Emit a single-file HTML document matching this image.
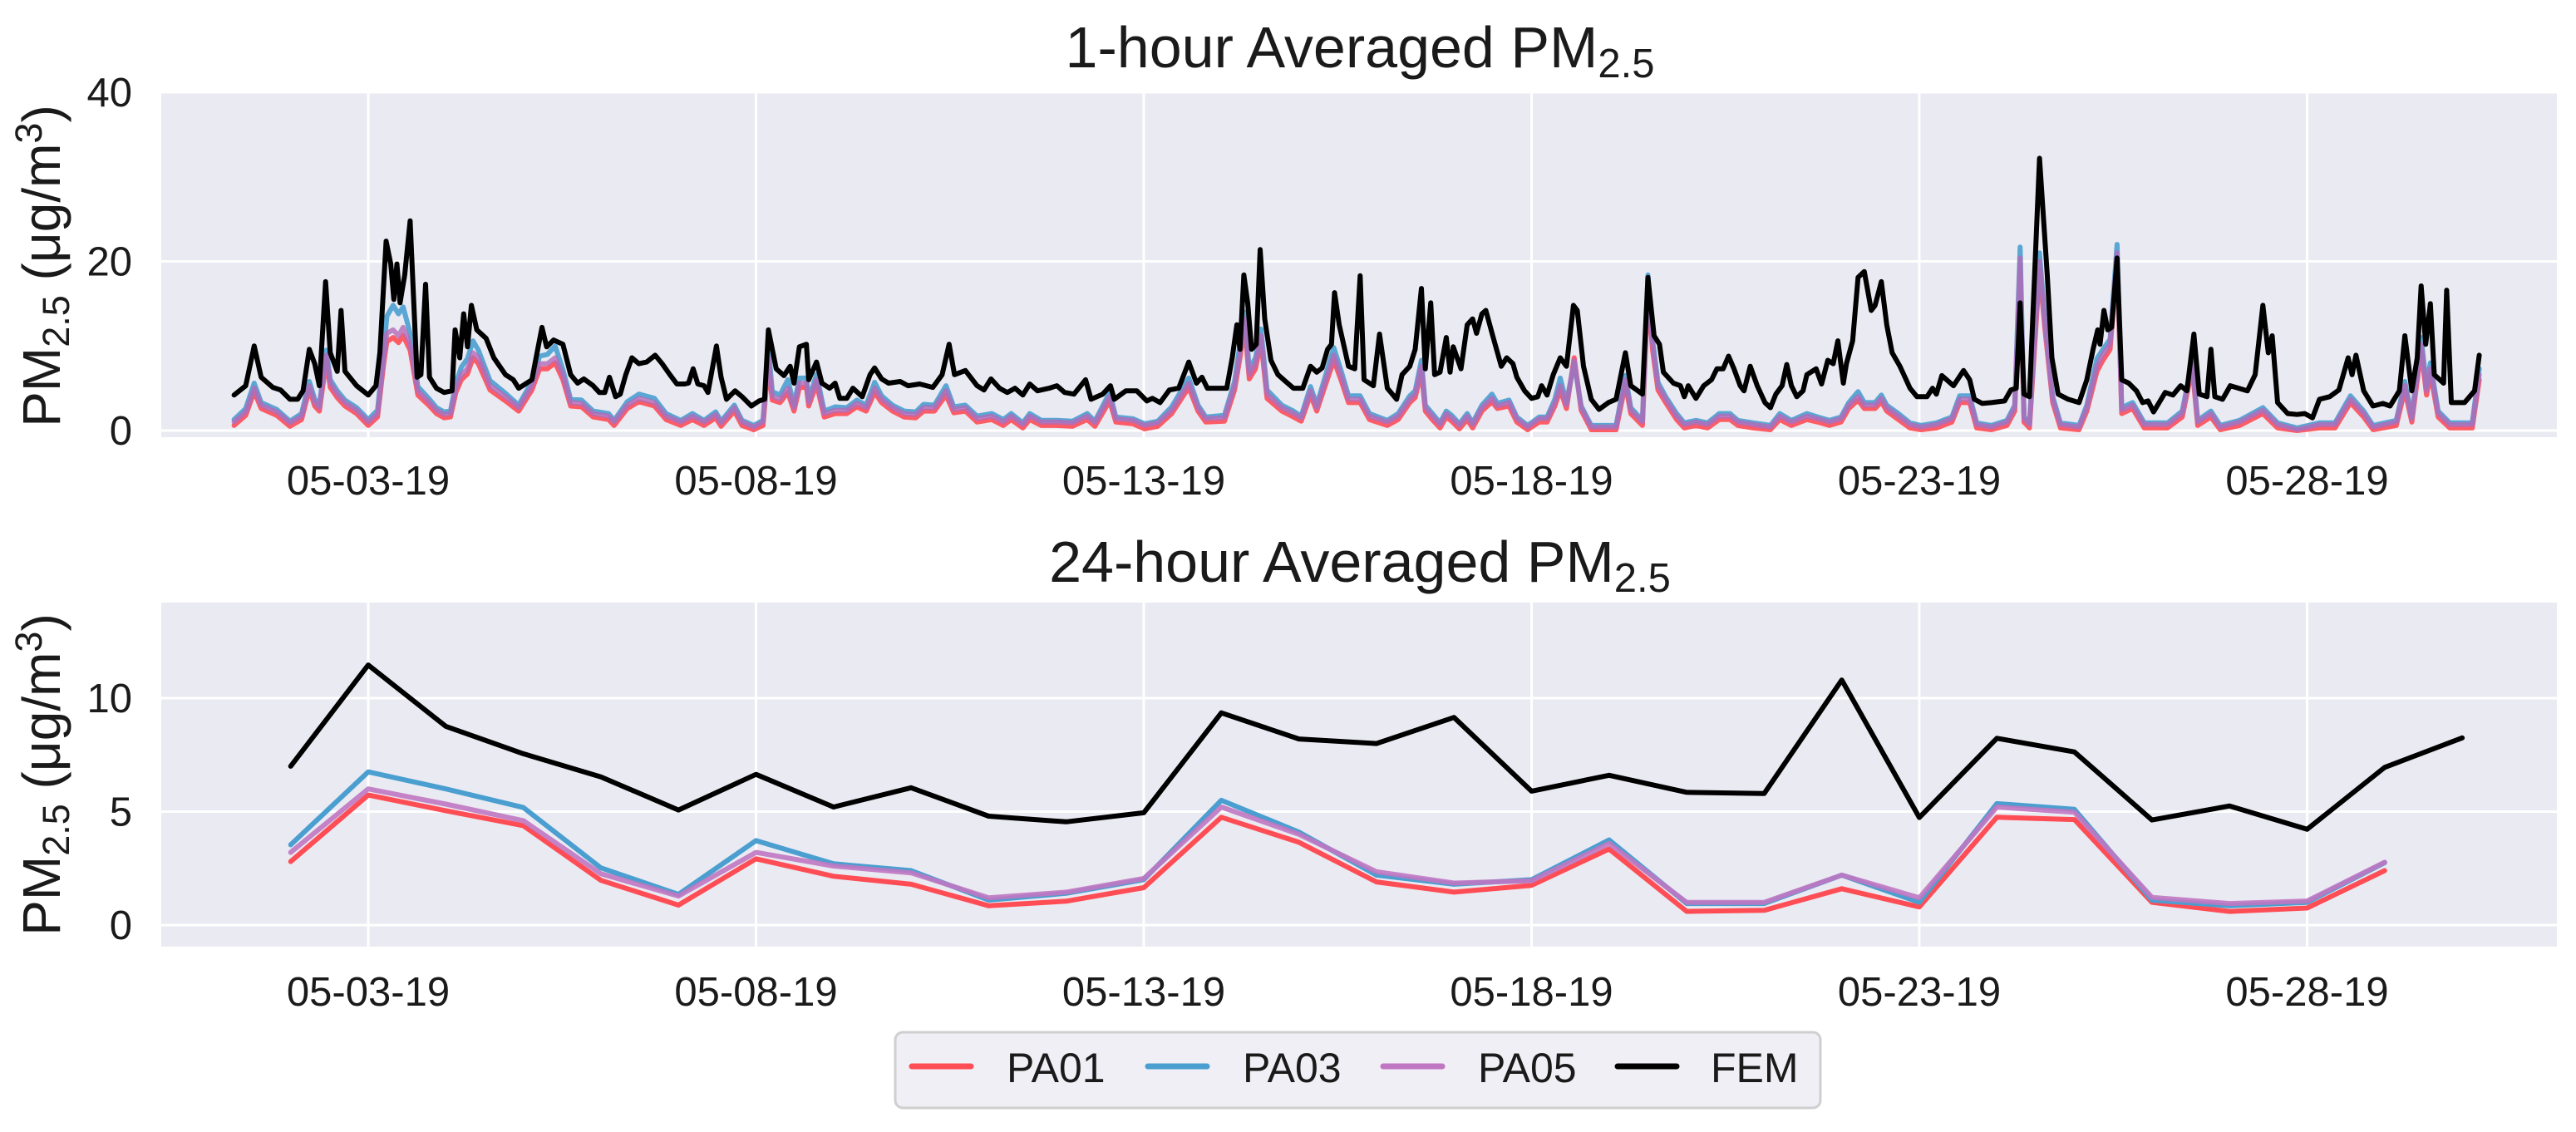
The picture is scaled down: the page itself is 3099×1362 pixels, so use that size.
<!DOCTYPE html>
<html><head><meta charset="utf-8"><style>
html,body{margin:0;padding:0;background:#fff;}
svg{display:block;font-family:"Liberation Sans",Arial,sans-serif;}
</style></head><body>
<svg id="chart" width="3099" height="1362" viewBox="0 0 3099 1362" xmlns="http://www.w3.org/2000/svg">
<defs>
<clipPath id="clipTop"><rect x="194" y="111" width="2882" height="415"/></clipPath>
<clipPath id="clipBot"><rect x="194" y="725" width="2882" height="414"/></clipPath>
</defs>
<g id="topAxes"></g>
<g id="botAxes"></g>
<text x="1636" y="81" font-size="70" text-anchor="middle" fill="#1a1a1a">1-hour Averaged PM<tspan font-size="49" dy="12">2.5</tspan></text>
<text x="1636" y="700" font-size="70" text-anchor="middle" fill="#1a1a1a">24-hour Averaged PM<tspan font-size="49" dy="12">2.5</tspan></text>
<text transform="translate(72,320) rotate(-90)" font-size="64" text-anchor="middle" fill="#1a1a1a">PM<tspan font-size="45" dy="11">2.5</tspan><tspan dy="-11"> (μg/m</tspan><tspan font-size="45" dy="-22">3</tspan><tspan dy="22">)</tspan></text>
<text transform="translate(72,932) rotate(-90)" font-size="64" text-anchor="middle" fill="#1a1a1a">PM<tspan font-size="45" dy="11">2.5</tspan><tspan dy="-11"> (μg/m</tspan><tspan font-size="45" dy="-22">3</tspan><tspan dy="22">)</tspan></text>
<g>
<rect x="1077" y="1242" width="1113" height="91" rx="9" fill="#efeff5" stroke="#cfcfcf" stroke-width="3"/>
<g><line x1="1097" y1="1283" x2="1168" y2="1283" stroke="#ff4d55" stroke-width="7" stroke-linecap="round"/><text x="1211" y="1302" font-size="50" fill="#1a1a1a">PA01</text></g>
<g><line x1="1381" y1="1283" x2="1452" y2="1283" stroke="#4a9fd0" stroke-width="7" stroke-linecap="round"/><text x="1495" y="1302" font-size="50" fill="#1a1a1a">PA03</text></g>
<g><line x1="1664" y1="1283" x2="1735" y2="1283" stroke="#c077c2" stroke-width="7" stroke-linecap="round"/><text x="1778" y="1302" font-size="50" fill="#1a1a1a">PA05</text></g>
<g><line x1="1946" y1="1283" x2="2017" y2="1283" stroke="#000" stroke-width="7" stroke-linecap="round"/><text x="2058" y="1302" font-size="50" fill="#1a1a1a">FEM</text></g>
</g>
</svg>
<script>
// ---------- data (days since 05-01-19 00:00) ----------
const xTickDays = [2,7,12,17,22,27];
const xTickLabels = ["05-03-19","05-08-19","05-13-19","05-18-19","05-23-19","05-28-19"];
const topYTicks = [0,20,40];
const botYTicks = [0,5,10];

const hourlyPaT = [0.27,0.42,0.53,0.62,0.82,0.99,1.14,1.24,1.31,1.37,1.46,1.51,1.60,1.70,1.85,2.00,2.12,2.20,2.24,2.32,2.39,2.45,2.54,2.64,2.79,2.88,2.98,3.06,3.13,3.20,3.28,3.35,3.42,3.57,3.77,3.94,4.11,4.21,4.31,4.41,4.51,4.61,4.75,4.90,5.10,5.17,5.34,5.49,5.69,5.84,6.03,6.18,6.33,6.48,6.55,6.72,6.82,6.97,7.09,7.16,7.21,7.31,7.41,7.49,7.56,7.65,
7.68,7.78,7.88,8.02,8.17,8.30,8.42,8.53,8.62,8.76,8.91,9.06,9.16,9.30,9.45,9.55,9.70,9.85,10.04,10.19,10.29,10.44,10.53,10.68,10.88,11.08,11.27,11.37,11.56,11.64,11.86,12.01,12.18,12.36,12.58,12.70,12.80,13.04,13.17,13.24,13.30,13.36,13.44,13.51,13.59,13.78,13.93,14.03,14.15,14.23,14.32,14.45,14.55,14.64,14.79,14.91,15.14,
15.28,15.43,15.50,15.58,15.63,15.72,15.82,15.90,15.97,16.07,16.17,16.24,16.36,16.49,16.56,16.71,16.81,16.95,17.10,17.20,17.30,17.37,17.45,17.55,17.64,17.77,17.89,18.09,18.21,18.28,18.43,18.50,18.56,18.63,18.73,18.87,18.97,19.12,19.27,19.42,19.56,19.66,19.86,20.08,20.20,20.35,20.55,20.69,20.84,20.99,21.09,21.21,21.29,21.43,21.51,21.58,21.73,21.88,22.02,22.22,22.42,22.52,22.65,
22.74,22.93,23.13,23.23,23.30,23.35,23.42,23.55,23.62,23.72,23.82,24.06,24.16,24.29,24.36,24.46,24.55,24.61,24.75,24.90,25.20,25.39,25.52,25.59,25.76,25.88,26.13,26.43,26.62,26.87,27.16,27.36,27.56,27.73,27.85,28.15,28.26,28.35,28.47,28.54,28.59,28.69,28.84,29.13,29.22];

const hourlyPA05 = [1.0,2.2,5.0,3.0,2.2,0.9,1.7,5.3,3.3,2.7,8.9,5.6,4.3,3.3,2.4,1.0,2.0,8.6,11.5,11.9,11.2,12.2,10.2,4.7,3.3,2.4,1.9,2.0,5.0,6.6,7.3,9.2,8.6,5.3,4.0,2.7,5.3,7.9,7.9,8.6,6.6,3.3,3.2,2.0,1.7,1.0,3.0,3.8,3.3,1.7,1.0,1.7,1.0,1.9,0.9,2.7,1.0,0.4,1.0,8.6,4.0,3.7,5.0,2.7,5.6,5.6,
3.3,6.0,2.0,2.4,2.4,3.2,2.7,5.0,3.7,2.7,2.0,1.9,2.7,2.7,4.7,2.5,2.7,1.4,1.7,1.0,1.7,0.7,1.7,1.0,1.0,0.9,1.7,0.9,4.0,1.4,1.2,0.6,0.9,2.4,5.6,2.7,1.4,1.5,5.3,9.2,13.2,6.6,7.9,11.2,4.3,2.7,2.0,1.5,4.7,2.7,5.3,8.9,6.3,3.7,3.7,1.7,1.0,
1.7,3.7,4.3,7.6,2.7,1.7,0.7,2.0,1.5,0.6,1.7,0.7,2.7,3.8,2.9,3.3,1.4,0.4,1.4,1.4,3.3,5.3,3.0,8.3,2.7,0.4,0.4,0.4,6.0,2.4,1.0,17.5,10.2,5.3,3.7,1.7,0.7,1.0,0.7,1.7,1.7,1.0,0.7,0.4,1.7,1.0,1.7,1.4,1.0,1.4,3.0,4.0,3.0,3.0,3.8,2.7,1.7,0.7,0.4,0.7,1.4,3.7,3.7,
0.7,0.4,1.0,2.7,20.4,1.4,0.7,20.0,12.5,3.7,0.7,0.4,2.7,7.6,8.9,10.2,21.0,2.4,3.0,0.7,0.7,2.0,7.9,1.0,2.0,0.4,1.0,2.4,0.7,0.1,0.7,0.7,3.7,2.0,0.4,1.0,5.3,1.4,10.2,4.7,7.3,2.0,0.7,0.7,6.6];

const hourlyPA03 = [1.3,2.6,5.6,3.3,2.5,1.1,2.0,5.8,3.7,3.0,9.5,6.0,4.7,3.6,2.7,1.3,2.4,9.5,13.5,14.8,13.8,14.6,11.5,5.2,3.7,2.7,2.2,2.3,5.6,7.5,8.5,10.6,9.5,5.9,4.4,3.0,5.8,8.8,9.0,10.0,7.2,3.7,3.6,2.3,2.0,1.2,3.4,4.3,3.8,2.0,1.2,2.0,1.2,2.2,1.1,3.0,1.2,0.6,1.2,9.8,4.6,4.2,6.0,3.0,6.2,6.2,
3.7,6.6,2.3,2.8,2.7,3.6,3.0,5.7,4.1,3.0,2.3,2.2,3.1,3.0,5.3,2.8,3.0,1.7,2.0,1.3,2.0,0.9,2.0,1.2,1.2,1.1,2.0,1.1,4.5,1.6,1.4,0.8,1.1,2.8,6.2,3.0,1.6,1.8,5.8,10.2,14.0,7.2,8.6,12.0,4.8,3.0,2.3,1.7,5.2,3.0,5.8,9.8,6.9,4.1,4.1,2.0,1.2,
2.0,4.1,4.7,8.3,3.0,2.0,0.9,2.3,1.8,0.8,2.0,0.9,3.0,4.3,3.2,3.6,1.6,0.6,1.6,1.6,3.7,6.2,3.3,8.0,2.9,0.6,0.6,0.6,6.5,2.7,1.2,18.4,10.8,5.7,4.0,2.0,0.9,1.2,0.9,2.0,2.0,1.2,0.9,0.6,2.0,1.2,2.0,1.6,1.2,1.6,3.3,4.6,3.3,3.3,4.2,3.0,2.0,0.9,0.6,0.9,1.6,4.1,4.1,
0.9,0.6,1.2,3.0,21.7,1.6,0.9,21.0,13.0,4.0,0.9,0.6,3.0,8.5,9.5,10.8,22.0,2.7,3.3,0.9,0.9,2.3,8.3,1.2,2.3,0.6,1.2,2.7,0.9,0.3,0.9,0.9,4.1,2.3,0.6,1.2,5.8,1.6,11.0,5.2,8.0,2.3,0.9,0.9,7.3];

const hourlyPA01 = [0.6,1.8,4.6,2.6,1.8,0.5,1.3,4.9,2.9,2.3,8.3,5.1,3.9,2.9,2.0,0.6,1.6,8.0,10.5,11.0,10.4,11.2,9.5,4.2,2.9,2.0,1.5,1.6,4.5,6.0,6.7,8.6,7.9,4.8,3.5,2.3,4.8,7.3,7.3,8.0,6.0,2.9,2.8,1.6,1.3,0.6,2.6,3.4,2.9,1.3,0.6,1.3,0.6,1.5,0.5,2.3,0.6,0.1,0.6,7.9,3.6,3.3,4.5,2.3,5.1,5.1,
2.9,5.5,1.6,2.0,2.0,2.8,2.3,4.5,3.3,2.3,1.6,1.5,2.3,2.3,4.2,2.1,2.3,1.0,1.3,0.6,1.3,0.3,1.3,0.6,0.6,0.5,1.3,0.5,3.5,1.0,0.8,0.2,0.5,2.0,5.1,2.3,1.0,1.1,4.8,8.6,12.5,6.1,7.3,10.6,3.8,2.3,1.6,1.1,4.2,2.3,4.8,8.3,5.8,3.3,3.3,1.3,0.6,
1.3,3.3,3.9,7.0,2.3,1.3,0.3,1.6,1.1,0.2,1.3,0.3,2.3,3.4,2.6,2.9,1.0,0.1,1.0,1.0,2.9,4.8,2.6,8.6,2.4,0.1,0.1,0.1,5.5,2.0,0.6,16.5,9.6,4.8,3.3,1.3,0.3,0.6,0.3,1.3,1.3,0.6,0.3,0.1,1.3,0.6,1.3,1.0,0.6,1.0,2.6,3.6,2.6,2.6,3.4,2.3,1.3,0.3,0.1,0.3,1.0,3.3,3.3,
0.3,0.1,0.6,2.3,19.5,1.0,0.3,19.0,12.0,3.3,0.3,0.1,2.3,7.0,8.2,9.6,20.0,2.0,2.6,0.3,0.3,1.6,7.4,0.6,1.6,0.1,0.6,2.0,0.3,0.0,0.3,0.3,3.3,1.6,0.1,0.6,4.8,1.0,9.5,4.2,6.8,1.6,0.3,0.3,6.0];

const hourlyFemT = [0.27,0.42,0.53,0.62,0.77,0.87,0.99,1.09,1.16,1.24,1.31,1.37,1.45,1.51,1.60,1.65,1.70,1.85,2.00,2.10,2.15,2.23,2.29,2.33,2.37,2.41,2.47,2.54,2.63,2.68,2.74,2.79,2.88,2.98,3.08,3.12,3.18,3.23,3.28,3.33,3.40,3.52,3.62,3.77,3.87,3.94,4.11,4.17,4.24,4.30,4.39,4.51,4.61,4.70,4.78,4.90,4.98,5.05,5.11,5.19,5.25,5.32,5.40,5.49,5.59,5.70,5.79,5.89,5.98,6.08,6.13,6.19,6.25,6.33,6.38,6.49,6.55,6.62,6.73,6.82,6.94,7.04,7.11,7.16,7.21,7.26,7.36,7.44,7.49,7.56,7.65,
7.68,7.78,7.85,7.95,8.02,8.08,8.17,8.25,8.37,8.47,8.53,8.62,8.71,8.86,8.96,9.11,9.28,9.40,9.49,9.56,9.70,9.85,9.94,10.03,10.14,10.24,10.34,10.44,10.53,10.63,10.78,10.88,10.98,11.10,11.25,11.32,11.47,11.57,11.62,11.77,11.91,12.04,12.11,12.21,12.33,12.45,12.58,12.68,12.75,12.82,13.07,13.14,13.20,13.24,13.29,13.34,13.39,13.45,13.50,13.56,13.64,13.73,13.83,13.93,14.05,14.15,14.23,14.30,14.37,14.42,14.46,14.52,14.64,14.72,14.79,14.84,14.96,15.04,15.14,
15.26,15.33,15.43,15.50,15.58,15.63,15.70,15.75,15.82,15.90,15.95,15.99,16.09,16.17,16.24,16.29,16.36,16.41,16.50,16.61,16.68,16.76,16.81,16.91,17.00,17.08,17.13,17.20,17.28,17.37,17.45,17.54,17.59,17.67,17.77,17.87,17.99,18.09,18.21,18.28,18.43,18.50,18.58,18.65,18.70,18.83,18.92,18.97,19.02,19.12,19.22,19.32,19.39,19.47,19.54,19.61,19.69,19.74,19.82,19.91,20.01,20.08,20.15,20.23,20.29,20.35,20.42,20.50,20.55,20.67,20.74,20.82,20.89,20.95,21.02,21.06,21.14,21.21,21.29,21.38,21.43,21.51,21.58,21.65,21.75,21.88,21.97,22.10,22.17,22.22,22.29,22.44,22.57,22.65,
22.71,22.81,22.93,23.10,23.18,23.25,23.30,23.35,23.42,23.55,23.65,23.71,23.79,23.92,24.06,24.16,24.24,24.30,24.33,24.38,24.43,24.48,24.55,24.61,24.70,24.80,24.88,24.95,25.02,25.17,25.27,25.37,25.45,25.54,25.61,25.71,25.76,25.81,25.91,26.01,26.23,26.33,26.43,26.50,26.55,26.62,26.75,26.87,26.97,27.07,27.16,27.29,27.41,27.53,27.58,27.63,27.73,27.85,27.98,28.07,28.19,28.26,28.35,28.42,28.47,28.53,28.59,28.64,28.76,28.80,28.86,29.03,29.16,29.22];

const hourlyFem = [4.2,5.3,10,6.3,5.1,4.8,3.7,3.7,4.7,9.6,7.9,5.3,17.6,9.2,7.0,14.2,7.0,5.3,4.2,5.3,9.2,22.4,19.7,15.5,19.7,15.1,18.4,24.8,6.3,6.6,17.3,6.3,5.0,4.5,4.7,11.9,8.6,13.8,9.9,14.8,11.9,10.9,8.6,6.6,6.0,5.0,6.0,8.9,12.2,9.9,10.7,10.2,6.6,5.6,6.1,5.3,4.5,4.5,6.3,4.0,4.3,6.6,8.6,7.9,8.1,8.9,7.9,6.6,5.5,5.5,5.6,7.3,5.5,5.3,4.5,10,6.3,3.7,4.7,4.0,2.9,3.5,3.7,11.9,9.6,7.3,6.5,7.6,5.6,9.9,10.2,
6.0,8.1,5.6,5.0,5.6,3.8,3.8,5.0,4.0,6.6,7.4,6.1,5.6,5.8,5.3,5.5,5.1,6.6,10.2,6.6,7.1,5.3,4.8,6.1,5.0,4.5,5.0,4.2,5.5,4.7,5.0,5.3,4.5,4.3,6.0,3.7,4.3,5.3,3.7,4.7,4.7,3.5,3.8,3.3,4.8,5.0,8.1,5.6,6.3,5.0,5.0,8.6,12.5,9.6,18.4,15.1,9.6,10.2,21.4,13.2,8.3,6.6,5.8,5.0,5.0,7.6,6.9,7.4,9.6,10.2,16.3,12.5,7.6,7.3,18.3,6.0,5.3,11.4,5.0,
3.7,6.6,7.6,9.6,16.8,7.3,15.1,6.6,6.9,11.0,6.9,9.9,7.3,12.5,13.2,11.5,13.8,14.2,11.2,7.6,8.6,7.9,6.3,4.7,3.8,4.0,5.3,4.2,6.6,8.6,7.6,14.8,14.2,7.6,3.7,2.5,3.3,3.7,9.2,5.3,4.3,18.1,11.2,10.2,6.9,5.6,5.3,4.0,5.3,3.8,5.3,6.0,7.3,7.3,8.8,7.3,5.3,4.7,7.6,5.3,3.3,2.7,4.3,5.3,7.8,5.3,4.0,4.7,6.6,7.3,5.5,8.3,7.9,10.6,5.6,7.9,10.6,18.1,18.8,14.2,14.8,17.6,12.5,9.2,7.6,5.0,4.0,4.0,5.0,4.3,6.5,5.3,7.1,6.0,
3.7,3.2,3.3,3.5,4.8,5.0,15.1,4.3,4.0,32.2,18.4,8.6,4.3,3.7,3.3,6.0,9.6,11.9,10.2,14.2,11.9,12.2,20.4,6.0,5.6,4.7,3.3,3.5,2.2,4.5,4.2,5.3,4.7,11.4,4.3,4.0,9.6,4.0,3.7,5.3,4.7,6.6,14.8,9.2,11.2,3.3,2.0,1.9,2.0,1.5,3.7,4.0,4.8,8.6,6.6,8.9,4.7,2.9,3.2,2.9,4.7,11.2,4.7,8.6,17.1,10.2,15.0,6.6,5.6,16.6,3.3,3.3,4.7,8.9];

const dailyPaDays = [1,2,3,4,5,6,7,8,9,10,11,12,13,14,15,16,17,18,19,20,21,22,23,24,25,26,27,28];
const dailyPA01 = [2.8,5.73,5.04,4.38,1.97,0.88,2.92,2.15,1.8,0.85,1.05,1.65,4.75,3.65,1.9,1.45,1.75,3.35,0.6,0.65,1.6,0.8,4.75,4.65,1.0,0.6,0.75,2.4];
const dailyPA03 = [3.54,6.75,6.0,5.18,2.52,1.35,3.72,2.7,2.4,1.1,1.4,2.0,5.5,4.1,2.2,1.8,2.0,3.75,0.95,0.95,2.2,1.0,5.35,5.1,1.1,0.85,1.0,2.75];
const dailyPA05 = [3.2,6.0,5.33,4.6,2.26,1.28,3.2,2.6,2.3,1.2,1.45,2.05,5.2,4.0,2.35,1.85,1.95,3.6,1.0,1.0,2.2,1.2,5.2,4.97,1.22,0.95,1.06,2.77];
const dailyFemDays = [1,2,3,4,5,6,7,8,9,10,11,12,13,14,15,16,17,18,19,20,21,22,23,24,25,26,27,28,29];
const dailyFem = [7.0,11.46,8.76,7.55,6.53,5.07,6.64,5.2,6.05,4.8,4.55,4.95,9.35,8.2,8.0,9.15,5.9,6.6,5.85,5.8,10.8,4.74,8.23,7.63,4.63,5.25,4.22,6.95,8.25];

// ---------- axes ----------
const NS = "http://www.w3.org/2000/svg";
const AX_L = 194, AX_R = 3076;
function xDay(d){ return 443 + (d - 2) * 93.3; }
function yTop(v){ return 518 - v * 10.175; }
function yBot(v){ return 1113 - v * 27.3; }
function mk(tag, attrs, parent){
  const e = document.createElementNS(NS, tag);
  for (const k in attrs) e.setAttribute(k, attrs[k]);
  parent.appendChild(e);
  return e;
}
function panel(g, top, bottom, yfn, yTicks, clipId, prefix){
  const bg = mk("rect", {x:AX_L, y:top, width:AX_R-AX_L, height:bottom-top, fill:"#eaeaf2"}, g);
  
  
  yTicks.forEach(function(t){
    const y = yfn(t);
    const gl = mk("line", {x1:AX_L, x2:AX_R, y1:y, y2:y, stroke:"#fff", "stroke-width":3}, g);
    
    
    const tl = mk("text", {x:159, y:y+17, "font-size":49, "text-anchor":"end", fill:"#1a1a1a"}, g);
    tl.textContent = String(t);
    
    
  });
  xTickDays.forEach(function(d, i){
    const x = xDay(d);
    const gl = mk("line", {x1:x, x2:x, y1:top, y2:bottom, stroke:"#fff", "stroke-width":3}, g);
    
    
    const tl = mk("text", {x:x, y:bottom + (prefix === 'hourly' ? 69 : 71), "font-size":49, "text-anchor":"middle", fill:"#1a1a1a"}, g);
    tl.textContent = xTickLabels[i];
    
    
  });
}
function series(g, xs, ys, yfn, color, width, opacity, clipId, name){
  const n = Math.min(xs.length, ys.length);
  let d = "";
  for (let i = 0; i < n; i++) d += (i ? "L" : "M") + xDay(xs[i]).toFixed(1) + "," + yfn(ys[i]).toFixed(1);
  const p = mk("path", {d:d, fill:"none", stroke:color, "stroke-width":width, "stroke-linejoin":"round", "stroke-linecap":"round", opacity:opacity, "clip-path":"url(#" + clipId + ")"}, g);
  
  
}
const gt = document.getElementById("topAxes");
const gb = document.getElementById("botAxes");
panel(gt, 111, 526, yTop, topYTicks, "clipTop", "hourly");
panel(gb, 725, 1139, yBot, botYTicks, "clipBot", "daily");

series(gt, hourlyPaT, hourlyPA01, yTop, "#ff4d55", 6, 0.9, "clipTop", "hourly-pa01-line");
series(gt, hourlyPaT, hourlyPA03, yTop, "#4a9fd0", 6, 0.9, "clipTop", "hourly-pa03-line");
series(gt, hourlyPaT, hourlyPA05, yTop, "#b46ab8", 6, 0.8, "clipTop", "hourly-pa05-line");
series(gt, hourlyFemT, hourlyFem, yTop, "#000", 6, 1, "clipTop", "hourly-fem-line");

series(gb, dailyPaDays, dailyPA01, yBot, "#ff4d55", 6, 1, "clipBot", "daily-pa01-line");
series(gb, dailyPaDays, dailyPA03, yBot, "#4a9fd0", 6, 1, "clipBot", "daily-pa03-line");
series(gb, dailyPaDays, dailyPA05, yBot, "#c077c2", 6, 0.9, "clipBot", "daily-pa05-line");
series(gb, dailyFemDays, dailyFem, yBot, "#000", 6, 1, "clipBot", "daily-fem-line");
</script>
</body></html>
